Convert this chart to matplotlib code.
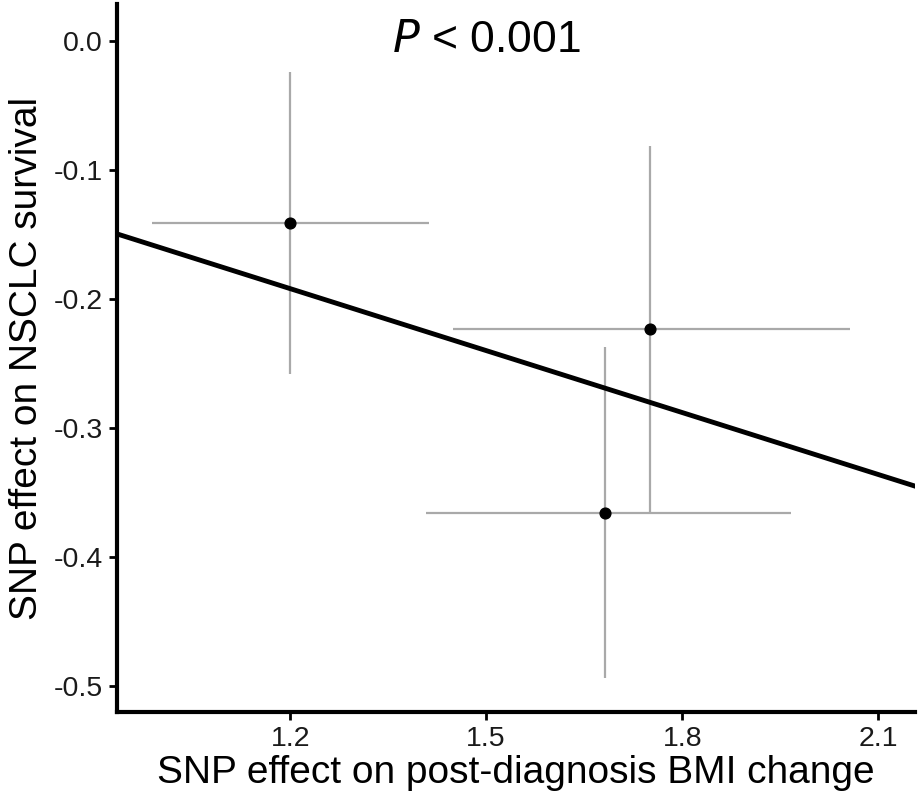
import matplotlib.pyplot as plt

plt.rcParams['font.family'] = ['Liberation Sans', 'DejaVu Sans']

# SNP effects: on post-diagnosis BMI change (x) and on NSCLC survival (y)
bmi_effect = [1.20, 1.75, 1.682]
bmi_lo = [0.989, 1.45, 1.408]
bmi_hi = [1.412, 2.057, 1.967]
surv_effect = [-0.141, -0.2234, -0.366]
surv_lo = [-0.258, -0.366, -0.494]
surv_hi = [-0.024, -0.0817, -0.237]

# IVW slope (through origin)
slope = -0.16

x_ticks = [1.2, 1.5, 1.8, 2.1]
y_ticks = [0.0, -0.1, -0.2, -0.3, -0.4, -0.5]

fig, ax = plt.subplots(figsize=(9.21, 8), dpi=100)
fig.subplots_adjust(left=0.127, right=0.994, top=0.995, bottom=0.11)

xerr = [[b - lo for b, lo in zip(bmi_effect, bmi_lo)],
        [hi - b for b, hi in zip(bmi_effect, bmi_hi)]]
yerr = [[s - lo for s, lo in zip(surv_effect, surv_lo)],
        [hi - s for s, hi in zip(surv_effect, surv_hi)]]
ax.errorbar(bmi_effect, surv_effect, xerr=xerr, yerr=yerr, fmt='none',
            ecolor='#a9a9a9', elinewidth=1.6, capsize=0, zorder=2)
ax.scatter(bmi_effect, surv_effect, s=60, color='black', zorder=4)

xlim = (0.935, 2.157)
ax.plot(xlim, [slope * v for v in xlim], color='black', lw=3.5, zorder=3)
ax.set_xlim(xlim)
ax.set_ylim(-0.52, 0.0285)

ax.set_xticks(x_ticks)
ax.set_xticklabels([f'{v:.1f}' for v in x_ticks])
ax.set_yticks(y_ticks)
ax.set_yticklabels([f'{v:.1f}' if v != 0 else '0.0' for v in y_ticks])
ax.tick_params(labelsize=20.5, width=2, length=6, pad=4,
               color='black', labelcolor='#1a1a1a')

for s in ['top', 'right']:
    ax.spines[s].set_visible(False)
for s in ['left', 'bottom']:
    ax.spines[s].set_linewidth(3)

ax.set_xlabel('SNP effect on post-diagnosis BMI change', fontsize=28, labelpad=2)
ax.set_ylabel('SNP effect on NSCLC survival', fontsize=28, labelpad=6)

ax.text(1.5, 0.0, r'$\mathit{P}$ < 0.001', fontsize=32, ha='center', va='center')

fig.savefig('out.png', dpi=100)
